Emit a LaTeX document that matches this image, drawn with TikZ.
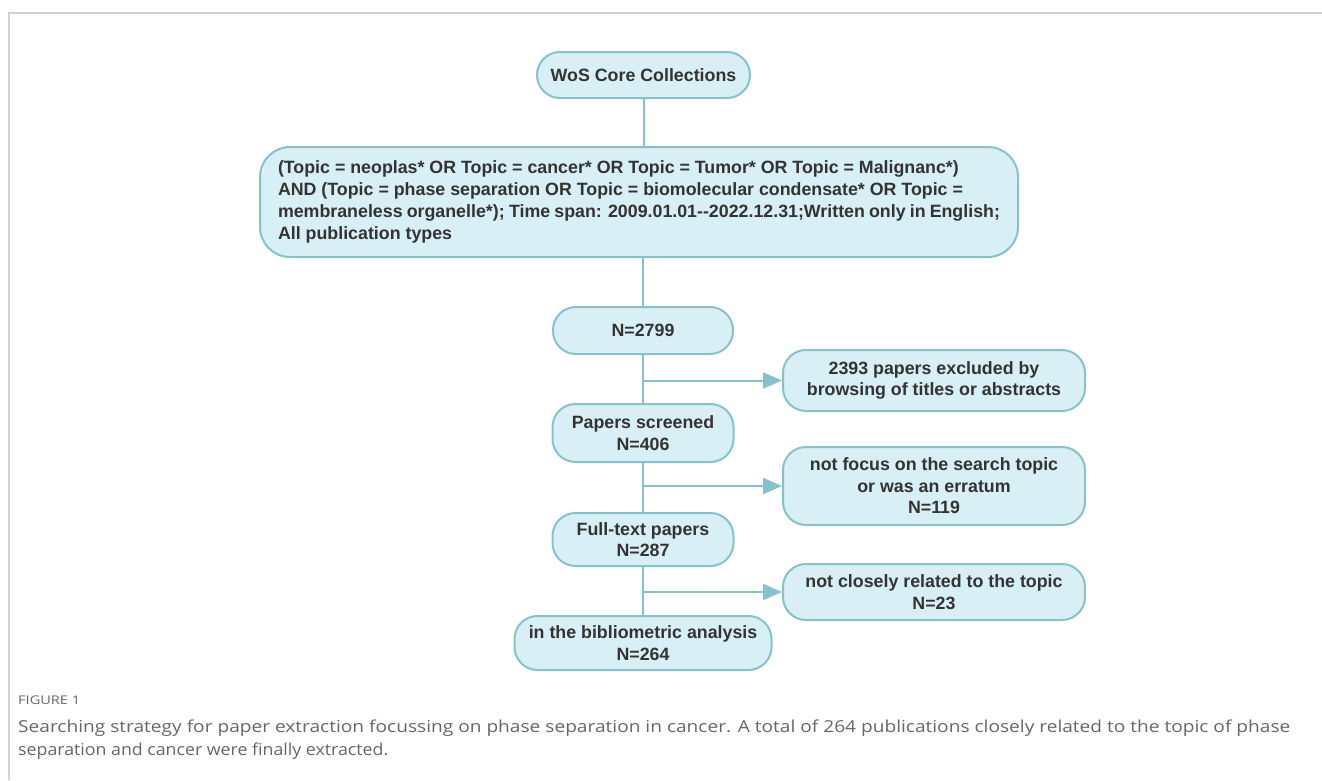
\documentclass[tikz,border=0pt]{standalone}
\usepackage{fontspec}
\usepackage{graphicx}
\setmainfont{Liberation Sans}
\newfontfamily\capfont{Open Sans}
\usetikzlibrary{arrows.meta}
\definecolor{boxfill}{HTML}{D8EFF5}
\definecolor{boxline}{HTML}{84C3CC}
\definecolor{boxtext}{HTML}{333333}
\definecolor{framegray}{HTML}{D2D2D2}
\definecolor{capgray}{HTML}{666666}
\tikzset{
  flowbox/.style={draw=boxline, fill=boxfill, line width=2pt, rounded corners=23pt,
    align=center, inner sep=0pt, text=boxtext,
    font=\fontsize{17.8}{21.5}\selectfont\bfseries},
  link/.style={draw=boxline, line width=2pt},
  arrowlink/.style={link, -{Triangle[length=19pt,width=16pt]}},
  framerule/.style={draw=framegray, line width=1.2pt}
}
\begin{document}
\begin{tikzpicture}[x={(1pt,0pt)}, y={(0pt,-1pt)}]
\useasboundingbox (0,0) rectangle (1322,780);
% frame
\coordinate (ftl) at (9,13);
\coordinate (ftr) at (1322,13);
\coordinate (fbl) at (9,780);
\draw[framerule] (fbl) -- (ftl) -- (ftr);
% boxes
\node[flowbox, minimum width=213pt, minimum height=46pt] (wos) at (643.5,75) {WoS Core Collections};
\node[flowbox, rounded corners=30pt, minimum width=758pt, minimum height=110pt, align=left,
      font=\fontsize{17.8}{21.8}\selectfont\bfseries] (query) at (639,202)
  {\parbox{722pt}{(Topic = neoplas* OR Topic = cancer* OR Topic = Tumor* OR Topic = Malignanc*)\\
AND (Topic = phase separation OR Topic = biomolecular condensate* OR Topic =\\
membraneless organelle*); Time span: 2009.01.01-{}-2022.12.31;Written only in English;\\
All publication types}};
\node[flowbox, minimum width=180pt, minimum height=47pt] (n2799) at (643,330.5) {N=2799};
\node[flowbox, minimum width=302pt, minimum height=61pt] (ex1) at (934,380.5)
  {2393 papers excluded by\\browsing of titles or abstracts};
\node[flowbox, minimum width=181pt, minimum height=58pt] (screened) at (643,433)
  {Papers screened\\N=406};
\node[flowbox, minimum width=302pt, minimum height=78pt] (ex2) at (934,486)
  {not focus on the search topic\\or was an erratum\\N=119};
\node[flowbox, minimum width=181pt, minimum height=53pt] (fulltext) at (643,539.5)
  {Full-text papers\\N=287};
\node[flowbox, minimum width=302pt, minimum height=56pt] (ex3) at (934,592)
  {not closely related to the topic\\N=23};
\node[flowbox, minimum width=257pt, minimum height=54pt] (final) at (643,643)
  {in the bibliometric analysis\\N=264};
% connectors
\draw[link] (wos.south) -- (wos.south |- query.north);
\draw[link] (n2799.north |- query.south) -- (n2799.north);
\draw[link] (n2799.south) -- (screened.north);
\draw[link] (screened.south) -- (fulltext.north);
\draw[link] (fulltext.south) -- (final.north);
\draw[arrowlink] (n2799.south |- ex1.west) -- (ex1.west);
\draw[arrowlink] (screened.south |- ex2.west) -- (ex2.west);
\draw[arrowlink] (fulltext.south |- ex3.west) -- (ex3.west);
% caption
\node[anchor=west, inner sep=0pt, text=capgray, font=\capfont\fontsize{12}{13}\selectfont] (figlabel) at (18,700)
  {\resizebox{62pt}{\height}{FIGURE 1}};
\node[anchor=west, inner sep=0pt, text=capgray, font=\capfont\fontsize{16.5}{20}\selectfont] (cap1) at (18,728)
  {\resizebox{1272pt}{\height}{Searching strategy for paper extraction focussing on phase separation in cancer. A total of 264 publications closely related to the topic of phase}};
\node[anchor=west, inner sep=0pt, text=capgray, font=\capfont\fontsize{16.5}{20}\selectfont] (cap2) at (18,751)
  {\resizebox{370pt}{\height}{separation and cancer were finally extracted.}};
\end{tikzpicture}
\end{document}
